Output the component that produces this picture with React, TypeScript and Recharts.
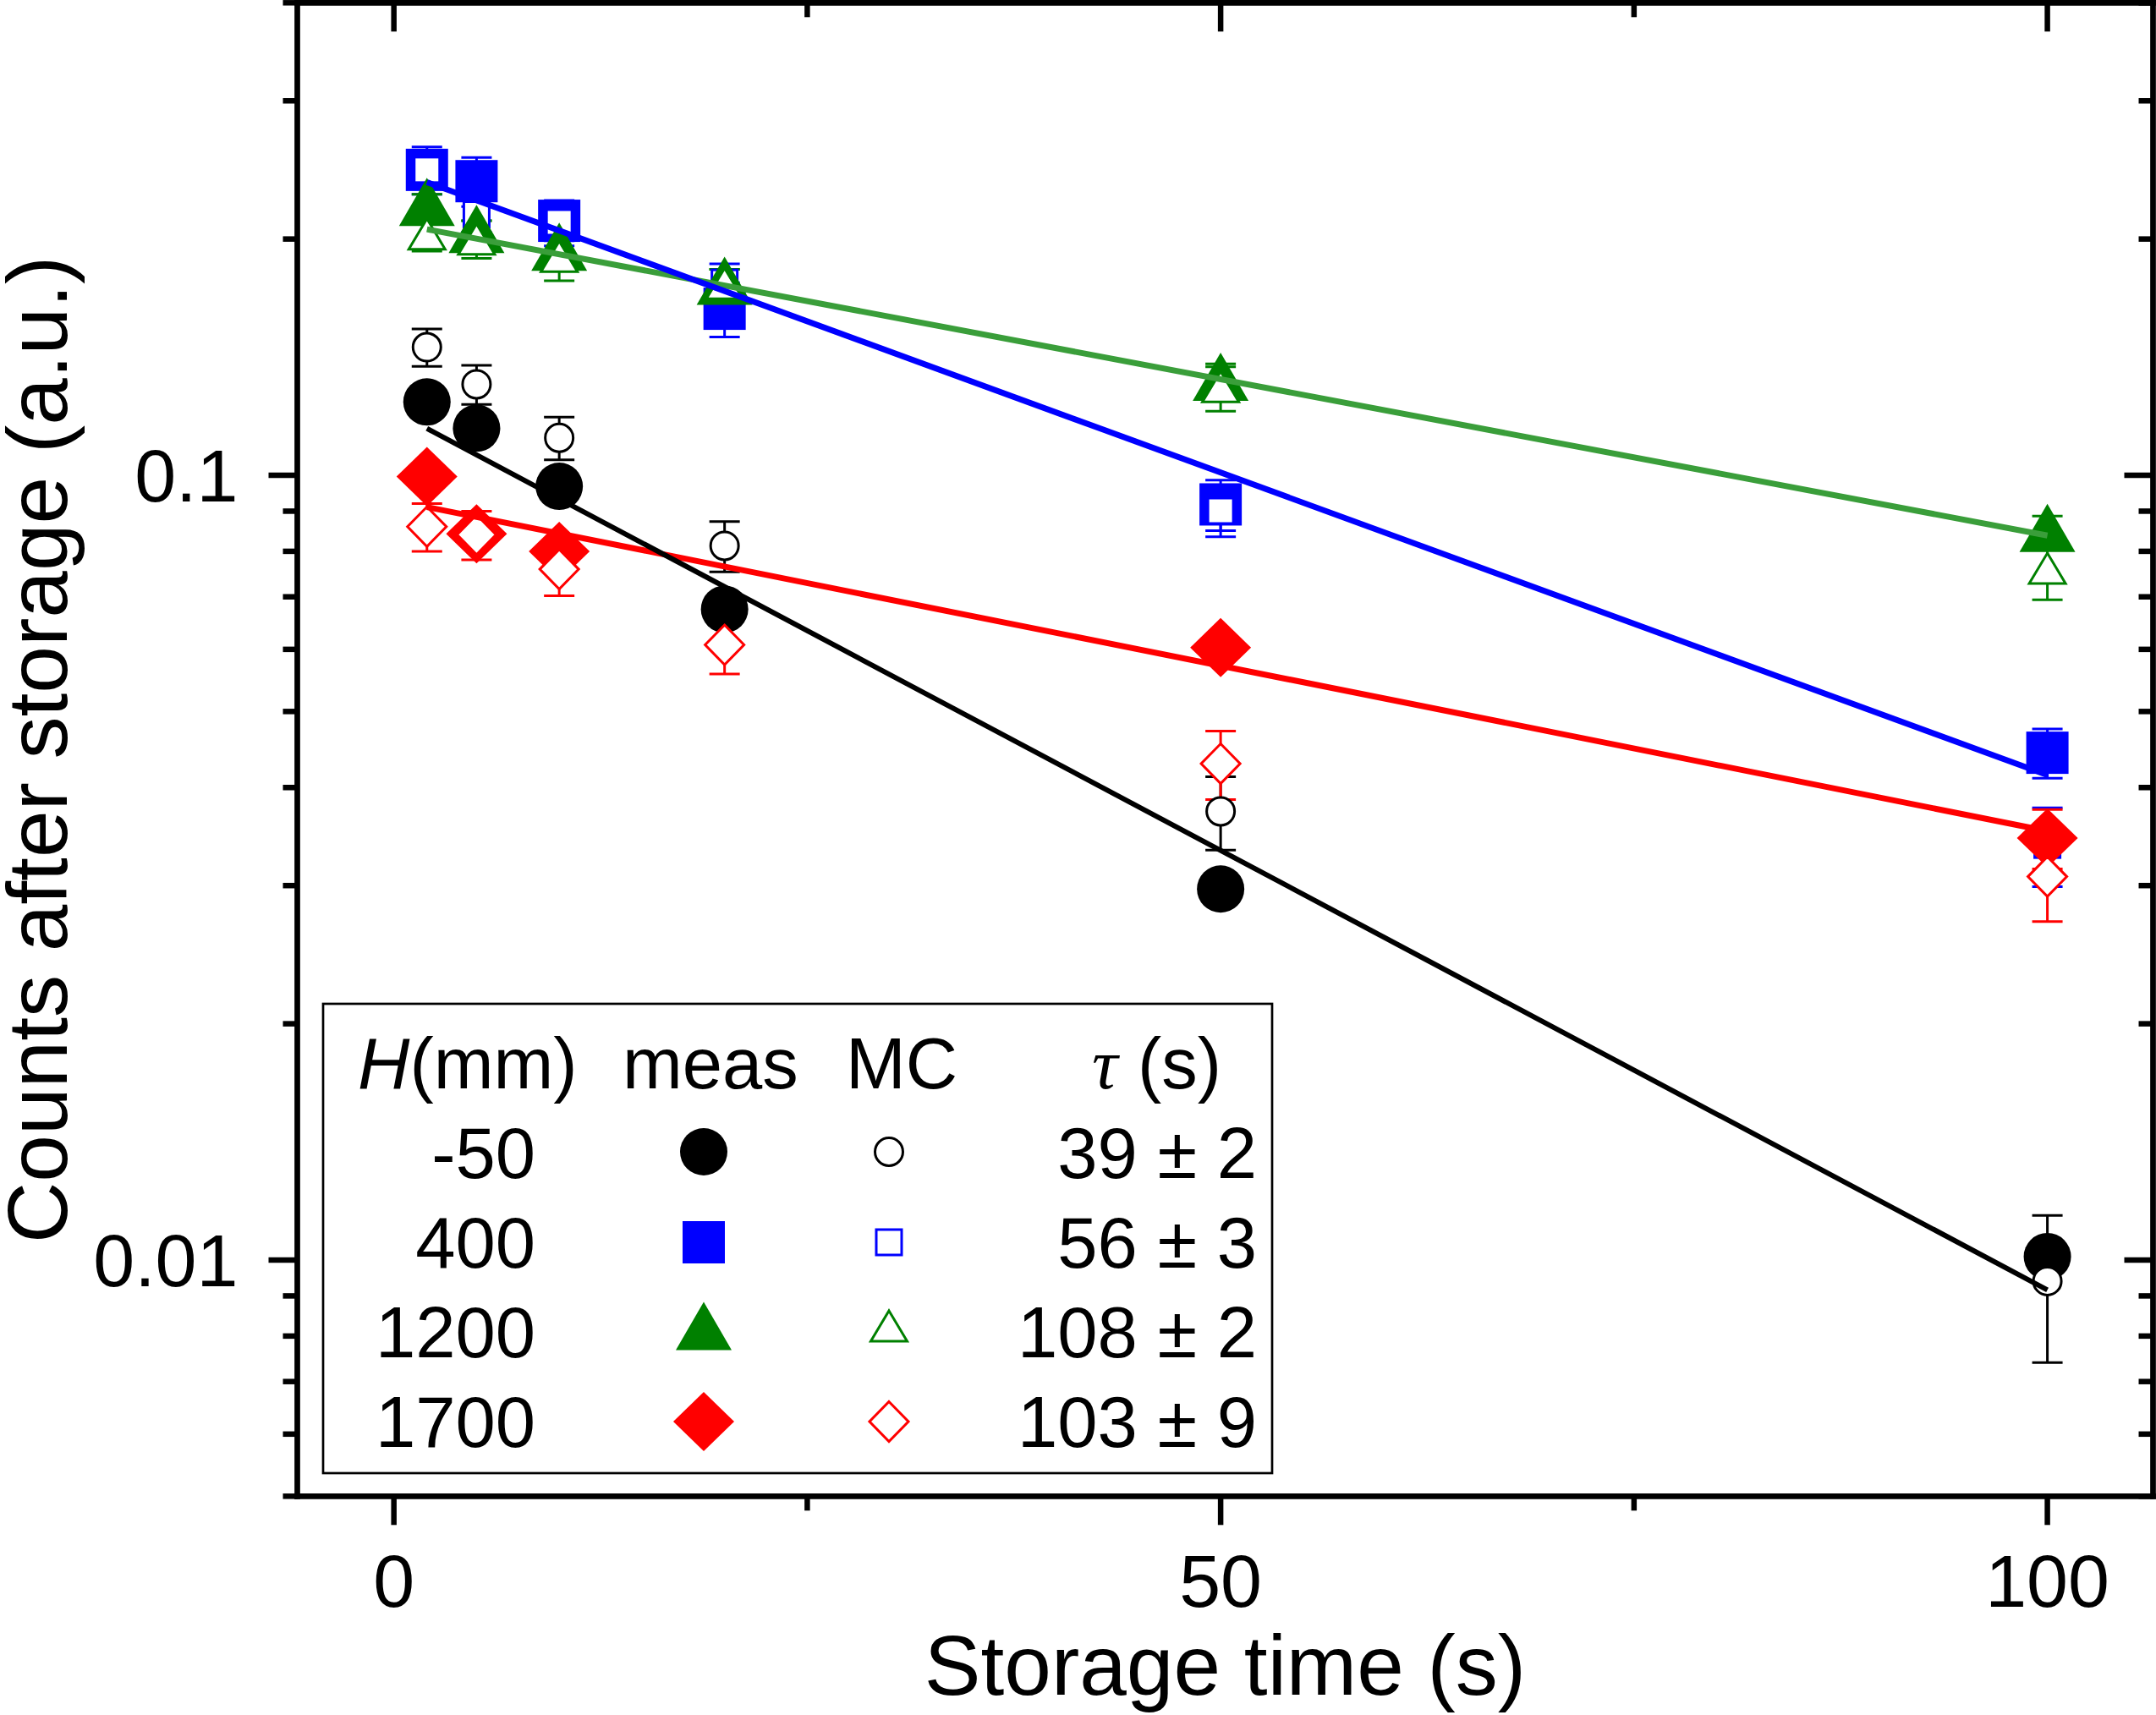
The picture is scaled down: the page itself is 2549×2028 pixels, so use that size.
import React from "react";
import { ComposedChart, Scatter, Line, XAxis, YAxis, ErrorBar } from "recharts";

const W = 2549;
const H = 2028;
const FONT = "'Liberation Sans', Arial, sans-serif";

// storage times (s)
const times = [2, 5, 10, 20, 50, 100];

// H = -50 mm
const measBlack = [0.124, 0.1148, 0.0968, 0.0675, 0.0297, 0.0101];
const measBlackErr = [0.003, 0.003, 0.0025, 0.002, 0.0008, 0.0004];
const mcBlack = [0.1456, 0.1306, 0.1116, 0.0813, 0.0373, 0.0094];
const mcBlackErr = [0.008, 0.0075, 0.007, 0.006, 0.004, 0.002];

// H = 400 mm
const measBlue = [0.245, 0.237, 0.211, 0.163, 0.0918, 0.0443];
const measBlueErr = [0.01, 0.017, 0.012, 0.013, 0.0068, 0.0032];
const mcBlue = [0.245, 0.215, 0.21, 0.176, 0.0901, 0.0338];
const mcBlueErr = [0.017, 0.011, 0.014, 0.01, 0.0066, 0.0039];

// H = 1200 mm
const measGreen = [0.223, 0.206, 0.1955, 0.177, 0.1335, 0.0857];
const measGreenErr = [0.005, 0.005, 0.005, 0.006, 0.004, 0.003];
const mcGreen = [0.203, 0.2, 0.19, 0.1755, 0.1297, 0.0761];
const mcGreenErr = [0.01, 0.011, 0.013, 0.0075, 0.009, 0.0067];

// H = 1700 mm (no measured point at 20 s)
const measRed = [0.0996, 0.0842, 0.08, null, 0.0603, 0.0345];
const measRedErr = [0.003, 0.003, 0.003, null, 0.002, 0.003];
const mcRed = [0.086, 0.084, 0.0759, 0.0608, 0.0429, 0.0308];
const mcRedErr = [0.006, 0.006, 0.0057, 0.005, 0.0043, 0.0038];

// exponential fits, end points
const fitTimes = [2, 100];
const fitBlack = [0.1147, 0.00916];
const fitBlue = [0.2363, 0.0415];
const fitGreen = [0.2058, 0.0838];
const fitRed = [0.0911, 0.0352];

const xDomain = [-5.84, 106.39];
const xTicks = [0, 25, 50, 75, 100];
const xLabels = [0, 50, 100];
const yDomain = [0.005, 0.4];
const yTicks = [
  0.005, 0.006, 0.007, 0.008, 0.009, 0.01, 0.02, 0.03, 0.04, 0.05, 0.06, 0.07,
  0.08, 0.09, 0.1, 0.2, 0.3, 0.4,
];
const yLabels = [0.01, 0.1];

const legendH = ["-50", "400", "1200", "1700"];
const legendTau = ["39 \u00b1 2", "56 \u00b1 3", "108 \u00b1 2", "103 \u00b1 9"];

const BLACK = "#000000";
const BLUE = "#0000ff";
const GREEN = "#008000";
const GREEN_FIT = "#3a9e3a";
const RED = "#ff0000";

const pts = (vals: (number | null)[], errs: (number | null)[]) =>
  times
    .map((t, i) => (vals[i] == null ? null : { t, v: vals[i], e: errs[i] }))
    .filter(Boolean);
const fitPts = (vals: number[]) => fitTimes.map((t, i) => ({ t, v: vals[i] }));

type Kind = "circle" | "square" | "triangle" | "diamond";

const MEAS_SIZE = {
  circle: [56, 56],
  square: [50, 50],
  triangle: [66, 57],
  diamond: [72, 70],
};
const MC_SIZE = {
  circle: [33, 33],
  square: [30, 30],
  triangle: [43, 36],
  diamond: [46, 47],
};

function Marker({ kind, cx, cy, color, open }: { kind: Kind; cx: number; cy: number; color: string; open?: boolean }) {
  if (cx == null || cy == null) return <g />;
  const [w, h] = open ? MC_SIZE[kind] : MEAS_SIZE[kind];
  const p = {
    fill: open ? "#ffffff" : color,
    stroke: open ? color : "none",
    strokeWidth: open ? 3 : 0,
  };
  if (kind === "circle") return <circle cx={cx} cy={cy} r={w / 2} {...p} />;
  if (kind === "square") return <rect x={cx - w / 2} y={cy - h / 2} width={w} height={h} {...p} />;
  if (kind === "triangle")
    return (
      <polygon
        points={`${cx},${cy - h / 2} ${cx + w / 2},${cy + h / 2} ${cx - w / 2},${cy + h / 2}`}
        {...p}
      />
    );
  return (
    <polygon
      points={`${cx},${cy - h / 2} ${cx + w / 2},${cy} ${cx},${cy + h / 2} ${cx - w / 2},${cy}`}
      {...p}
    />
  );
}

const series = [
  { kind: "circle" as Kind, color: BLACK, meas: pts(measBlack, measBlackErr), mc: pts(mcBlack, mcBlackErr) },
  { kind: "square" as Kind, color: BLUE, meas: pts(measBlue, measBlueErr), mc: pts(mcBlue, mcBlueErr) },
  { kind: "triangle" as Kind, color: GREEN, meas: pts(measGreen, measGreenErr), mc: pts(mcGreen, mcGreenErr) },
  { kind: "diamond" as Kind, color: RED, meas: pts(measRed, measRedErr), mc: pts(mcRed, mcRedErr) },
];

const fits = [
  { data: fitPts(fitGreen), color: GREEN_FIT, width: 7 },
  { data: fitPts(fitRed), color: RED, width: 7 },
  { data: fitPts(fitBlue), color: BLUE, width: 7 },
  { data: fitPts(fitBlack), color: BLACK, width: 6 },
];

const MAJOR = 34;
const MINOR = 17;
const TICK_W = 6.5;

const BottomTick = (p: any) => {
  const major = xLabels.includes(p.payload.value);
  return (
    <g>
      <line x1={p.x} x2={p.x} y1={p.y} y2={p.y + (major ? MAJOR : MINOR)} stroke="#000" strokeWidth={TICK_W} />
      {major && (
        <text x={p.x} y={p.y + 131} textAnchor="middle" fontSize={88} fontFamily={FONT} fill="#000">
          {p.payload.value}
        </text>
      )}
    </g>
  );
};

const TopTick = (p: any) => {
  const major = xLabels.includes(p.payload.value);
  return <line x1={p.x} x2={p.x} y1={p.y} y2={p.y + (major ? MAJOR : MINOR)} stroke="#000" strokeWidth={TICK_W} />;
};

const LeftTick = (p: any) => {
  const major = yLabels.includes(p.payload.value);
  return (
    <g>
      <line x1={p.x} x2={p.x - (major ? MAJOR : MINOR)} y1={p.y} y2={p.y} stroke="#000" strokeWidth={TICK_W} />
      {major && (
        <text x={p.x - 70} y={p.y + 31} textAnchor="end" fontSize={88} fontFamily={FONT} fill="#000">
          {p.payload.value}
        </text>
      )}
    </g>
  );
};

const RightTick = (p: any) => {
  const major = yLabels.includes(p.payload.value);
  return <line x1={p.x} x2={p.x - (major ? MAJOR : MINOR)} y1={p.y} y2={p.y} stroke="#000" strokeWidth={TICK_W} />;
};

const axisLine = { stroke: "#000", strokeWidth: 6.7, strokeLinecap: "square" as const };

function LegendBox() {
  const rowY = [1393, 1499, 1605, 1711];
  const symY = [1362, 1469, 1568, 1681];
  const txt = { fontSize: 85, fontFamily: FONT, fill: "#000" };
  return (
    <svg width={W} height={H} style={{ position: "absolute", left: 0, top: 0, pointerEvents: "none" }}>
      <rect x={382} y={1187} width={1122} height={555} fill="none" stroke="#000" strokeWidth={2.7} />
      <text x={423} y={1287} {...txt}>
        <tspan fontStyle="italic">H</tspan>(mm)
      </text>
      <text x={736} y={1287} {...txt}>meas</text>
      <text x={1000} y={1287} {...txt}>MC</text>
      <text x={1291} y={1287} {...txt}>
        <tspan fontFamily="'Liberation Serif', 'Times New Roman', serif" fontStyle="italic">{"\u03c4"}</tspan> (s)
      </text>
      {series.map((s, i) => (
        <g key={i}>
          <text x={633} y={rowY[i]} textAnchor="end" {...txt}>{legendH[i]}</text>
          <Marker kind={s.kind} cx={832} cy={symY[i]} color={s.color} />
          <Marker kind={s.kind} cx={1051} cy={symY[i]} color={s.color} open />
          <text x={1486} y={rowY[i]} textAnchor="end" {...txt}>{legendTau[i]}</text>
        </g>
      ))}
    </svg>
  );
}

export default function App() {
  return (
    <div style={{ position: "absolute", left: 0, top: 0, width: W, height: H, background: "#fff" }}>
      <ComposedChart width={W} height={H} margin={{ top: 2.3, right: 2.5, bottom: 0, left: 0 }}>
        <XAxis
          dataKey="t"
          type="number"
          domain={xDomain}
          allowDataOverflow
          ticks={xTicks}
          interval={0}
          tickSize={0}
          tickMargin={0}
          height={258.7}
          axisLine={axisLine}
          tickLine={false}
          tick={BottomTick}
          label={{
            value: "Storage time (s)",
            position: "insideBottom",
            offset: 24,
            fontSize: 100,
            fontFamily: FONT,
            fill: "#000",
          }}
        />
        <XAxis
          xAxisId="top"
          orientation="top"
          dataKey="t"
          type="number"
          domain={xDomain}
          allowDataOverflow
          ticks={xTicks}
          interval={0}
          tickSize={0}
          tickMargin={0}
          height={1}
          axisLine={axisLine}
          tickLine={false}
          tick={TopTick}
        />
        <YAxis
          dataKey="v"
          type="number"
          scale="log"
          domain={yDomain}
          allowDataOverflow
          ticks={yTicks}
          interval={0}
          tickSize={0}
          tickMargin={0}
          width={351.5}
          axisLine={axisLine}
          tickLine={false}
          tick={LeftTick}
          label={{
            value: "Counts after storage (a.u.)",
            angle: -90,
            position: "insideLeft",
            offset: 44,
            fontSize: 100,
            fontFamily: FONT,
            fill: "#000",
            style: { textAnchor: "middle" },
          }}
        />
        <YAxis
          yAxisId="right"
          orientation="right"
          dataKey="v"
          type="number"
          scale="log"
          domain={yDomain}
          allowDataOverflow
          ticks={yTicks}
          interval={0}
          tickSize={0}
          tickMargin={0}
          width={1}
          axisLine={axisLine}
          tickLine={false}
          tick={RightTick}
        />
        {/* invisible series that tie the mirror axes to the plot */}
        <Scatter
          xAxisId="top"
          yAxisId="right"
          data={series[0].meas}
          shape={() => <g />}
          isAnimationActive={false}
        />
        {series.flatMap((s, i) => [
          <Scatter key={`mb${i}`} data={s.meas} shape={() => <g />} isAnimationActive={false}>
            <ErrorBar dataKey="e" direction="y" width={18} strokeWidth={3} stroke={s.color} />
          </Scatter>,
          <Scatter
            key={`ms${i}`}
            data={s.meas}
            isAnimationActive={false}
            shape={(p: any) => <Marker kind={s.kind} cx={p.cx} cy={p.cy} color={s.color} />}
          />,
          <Scatter key={`cb${i}`} data={s.mc} shape={() => <g />} isAnimationActive={false}>
            <ErrorBar dataKey="e" direction="y" width={18} strokeWidth={3} stroke={s.color} />
          </Scatter>,
          <Scatter
            key={`cs${i}`}
            data={s.mc}
            isAnimationActive={false}
            shape={(p: any) => <Marker kind={s.kind} cx={p.cx} cy={p.cy} color={s.color} open />}
          />,
        ])}
        {fits.map((f, i) => (
          <Line
            key={`f${i}`}
            data={f.data}
            dataKey="v"
            stroke={f.color}
            strokeWidth={f.width}
            dot={false}
            activeDot={false}
            isAnimationActive={false}
            zIndex={700}
          />
        ))}
      </ComposedChart>
      <LegendBox />
    </div>
  );
}
